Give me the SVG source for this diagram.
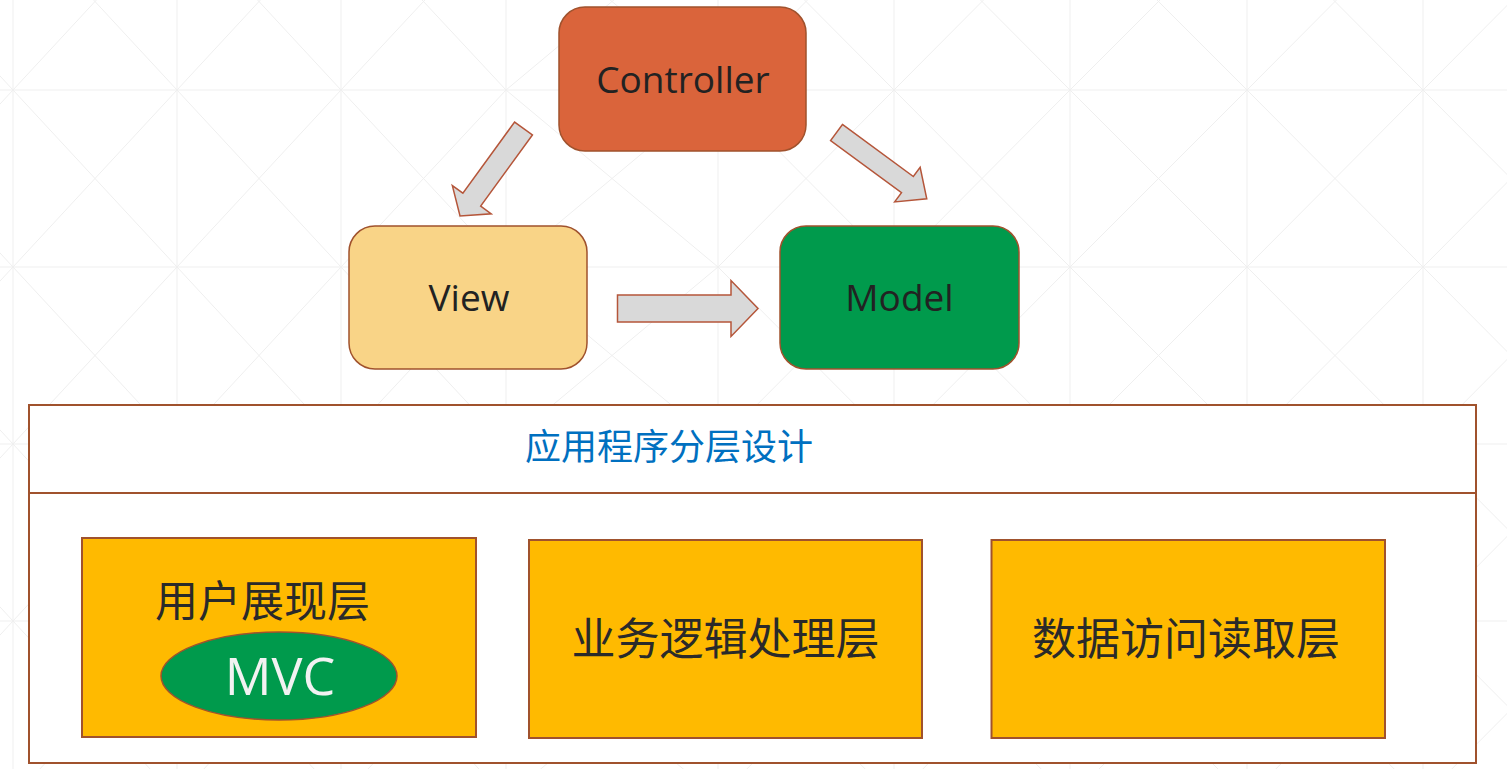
<svg xmlns="http://www.w3.org/2000/svg" xmlns:xlink="http://www.w3.org/1999/xlink" width="1507" height="769" viewBox="0 0 1507 769">
  <style>
    .grid { fill: none; stroke: #efefef; stroke-width: 1; }
    .node { stroke: #A0522D; stroke-width: 1.5; }
    .lat { font-family: "Open Sans", "Noto Sans", sans-serif; font-size: 37px; fill: #222222; text-anchor: middle; }
    .cjk { font-family: "Noto Sans CJK SC", sans-serif; fill: #2a2a2a; text-anchor: middle; }
    .arrow { fill: #D9D9D9; stroke: #B5563A; stroke-width: 1.5; stroke-linejoin: miter; }
    .layer { fill: #FFBA00; stroke: #A0522D; stroke-width: 2; }
  </style>
  <defs>
    <path id="gridrow" class="grid" d="M-151 0L13 177M13 0L-151 177M13 0L177 177M177 0L13 177M177 0L341 177M341 0L177 177M341 0L506 177M506 0L341 177M506 0L718 177M718 0L506 177M718 0L894 177M894 0L718 177M894 0L1070 177M1070 0L894 177M1070 0L1247 177M1247 0L1070 177M1247 0L1423 177M1423 0L1247 177M1423 0L1599 177M1599 0L1423 177M-151 0H1599"/>
  </defs>
  <rect x="0" y="0" width="1507" height="769" fill="#ffffff"/>
  <g id="background">
    <use xlink:href="#gridrow" transform="translate(0,-87)"/>
    <use xlink:href="#gridrow" transform="translate(0,90)"/>
    <use xlink:href="#gridrow" transform="translate(0,267)"/>
    <use xlink:href="#gridrow" transform="translate(0,444)"/>
    <use xlink:href="#gridrow" transform="translate(0,621)"/>
    <path class="grid" d="M13 0V769M177 0V769M341 0V769M506 0V769M718 0V769M894 0V769M1070 0V769M1247 0V769M1423 0V769"/>
  </g>

  <g id="connectors">
    <path class="arrow" transform="translate(523.5,128.5) rotate(126)" d="M0,-11 L88,-11 L88,-24 L108,0 L88,24 L88,11 L0,11 Z"/>
    <path class="arrow" transform="translate(836.5,132.5) rotate(36.3)" d="M0,-10 L88,-10 L88,-21.5 L112,0 L88,21.5 L88,10 L0,10 Z"/>
    <path class="arrow" d="M617.5,295 L731,295 L731,280.5 L758,308.5 L731,336.5 L731,322 L617.5,322 Z"/>
  </g>

  <g id="controller">
    <rect class="node" x="559" y="7" width="247" height="144" rx="26" fill="#DA643B"/>
    <text class="lat" x="683" y="93">Controller</text>
  </g>
  <g id="view">
    <rect class="node" x="349" y="226" width="238" height="143" rx="26" fill="#F9D487"/>
    <text class="lat" x="469" y="311">View</text>
  </g>
  <g id="model">
    <rect class="node" x="780" y="226" width="239" height="143" rx="26" fill="#009A4C"/>
    <text class="lat" x="899.5" y="311">Model</text>
  </g>

  <g id="layered-design">
    <rect x="29" y="405" width="1447" height="358" fill="#ffffff" stroke="#A0522D" stroke-width="2"/>
    <line x1="29" y1="493" x2="1476" y2="493" stroke="#A0522D" stroke-width="2"/>
    <text class="cjk" x="669" y="460" font-size="36" style="fill:#0070C0">应用程序分层设计</text>
  </g>

  <g id="presentation-layer">
    <rect class="layer" x="82" y="538" width="394" height="199"/>
    <text class="cjk" x="262.5" y="617" font-size="43">用户展现层</text>
    <g id="mvc">
      <ellipse cx="279" cy="676" rx="118" ry="44" fill="#009A4C" stroke="#A0522D" stroke-width="1.5"/>
      <text x="280" y="695" text-anchor="middle" font-family="Open Sans, Noto Sans, sans-serif" font-size="52" fill="#F2F2F2">MVC</text>
    </g>
  </g>
  <g id="business-layer">
    <rect class="layer" x="529" y="540" width="393" height="198"/>
    <text class="cjk" x="725.5" y="655" font-size="44">业务逻辑处理层</text>
  </g>
  <g id="data-layer">
    <rect class="layer" x="991.5" y="540" width="393.5" height="198"/>
    <text class="cjk" x="1186" y="655" font-size="44">数据访问读取层</text>
  </g>
</svg>
